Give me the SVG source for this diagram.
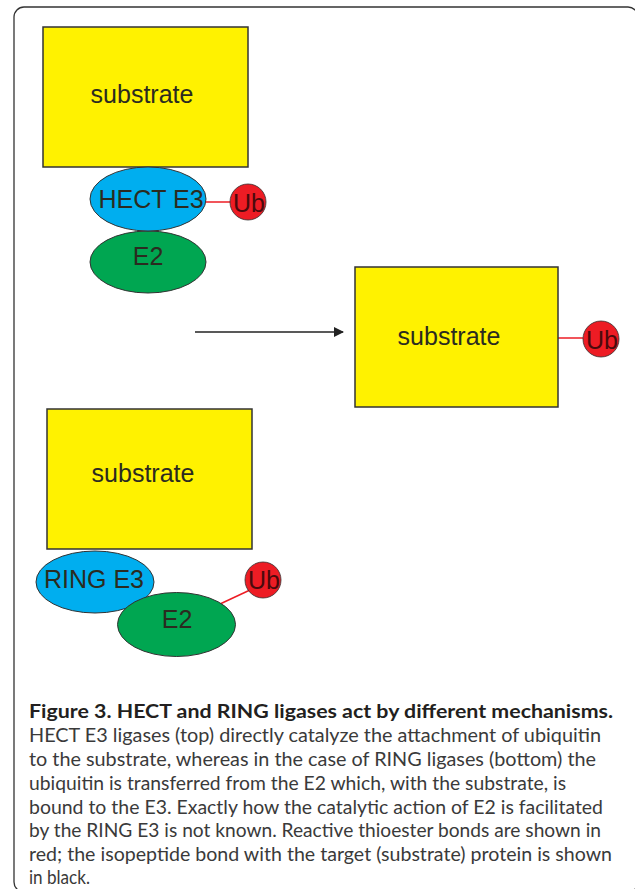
<svg xmlns="http://www.w3.org/2000/svg" width="635" height="889" viewBox="0 0 635 889">
<style>
.frame{fill:none;stroke:#333;stroke-width:1.3}
.sub{fill:#fff200;stroke:#333;stroke-width:1.5}
.e3{fill:#00aeef;stroke:#333;stroke-width:1}
.e2{fill:#00a651;stroke:#333;stroke-width:1}
.ub{fill:#ed1c24;stroke:#333;stroke-width:0.8}
.lbl{font-family:"Liberation Sans",Arial,sans-serif;font-size:25px;fill:#2b2b20;text-anchor:middle}
.ubt{font-family:"Liberation Sans",Arial,sans-serif;font-size:25px;fill:#4a0a0c;text-anchor:middle}
.thio{stroke:#ed1c24;stroke-width:1.5;fill:none}
.iso{stroke:#222;stroke-width:1.5;fill:none}
.cap{font-family:Lato,"Open Sans",sans-serif;font-size:19.5px;fill:#3a3a3a}
.capt{font-family:Lato,"Open Sans",sans-serif;font-size:19.5px;font-weight:bold;fill:#231f20}
</style>
<defs>
<marker id="arr" markerWidth="10" markerHeight="10" refX="9" refY="5" orient="auto" markerUnits="userSpaceOnUse">
<path d="M0,0 L10,5 L0,10 Z" fill="#222"/>
</marker>
</defs>
<rect class="frame" x="14" y="7" width="624" height="885" rx="10"/>
<g id="connectors">
<line class="thio" x1="206" y1="202" x2="231" y2="202"/>
<line class="iso" x1="195" y1="332" x2="343" y2="332" marker-end="url(#arr)"/>
<line class="thio" x1="558" y1="338" x2="583" y2="338"/>
<line class="thio" x1="220" y1="604" x2="250" y2="590"/>
</g>
<g id="substrate-top">
<rect class="sub" x="43" y="27" width="205" height="140"/>
<text class="lbl" x="142" y="103">substrate</text>
</g>
<g id="e2-top">
<ellipse class="e2" cx="148" cy="262" rx="58" ry="31"/>
<text class="lbl" x="148" y="265">E2</text>
</g>
<g id="hect-e3">
<ellipse class="e3" cx="148" cy="199" rx="58" ry="32"/>
<text class="lbl" x="151" y="208">HECT E3</text>
</g>
<g id="ub-top">
<circle class="ub" cx="248" cy="202" r="18"/>
<text class="ubt" x="249" y="212">Ub</text>
</g>
<g id="substrate-right">
<rect class="sub" x="355" y="267" width="203" height="140"/>
<text class="lbl" x="449" y="345">substrate</text>
</g>
<g id="ub-right">
<circle class="ub" cx="601" cy="339" r="18"/>
<text class="ubt" x="602" y="349">Ub</text>
</g>
<g id="substrate-bottom">
<rect class="sub" x="47" y="409" width="205" height="140"/>
<text class="lbl" x="143" y="482">substrate</text>
</g>
<g id="ring-e3">
<ellipse class="e3" cx="95" cy="582" rx="59" ry="31"/>
<text class="lbl" x="94" y="588">RING E3</text>
</g>
<g id="e2-bottom">
<ellipse class="e2" cx="176.5" cy="624.5" rx="59" ry="32"/>
<text class="lbl" x="177" y="628">E2</text>
</g>
<g id="ub-bottom">
<circle class="ub" cx="263" cy="580" r="18"/>
<text class="ubt" x="264" y="589">Ub</text>
</g>
<g id="caption">
<text class="capt" x="29" y="718" textLength="584" lengthAdjust="spacingAndGlyphs">Figure 3. HECT and RING ligases act by different mechanisms.</text>
<text class="cap" x="29" y="742" textLength="572" lengthAdjust="spacingAndGlyphs">HECT E3 ligases (top) directly catalyze the attachment of ubiquitin</text>
<text class="cap" x="29" y="766" textLength="567" lengthAdjust="spacingAndGlyphs">to the substrate, whereas in the case of RING ligases (bottom) the</text>
<text class="cap" x="29" y="790" textLength="537" lengthAdjust="spacingAndGlyphs">ubiquitin is transferred from the E2 which, with the substrate, is</text>
<text class="cap" x="29" y="814" textLength="574" lengthAdjust="spacingAndGlyphs">bound to the E3. Exactly how the catalytic action of E2 is facilitated</text>
<text class="cap" x="29" y="837" textLength="572" lengthAdjust="spacingAndGlyphs">by the RING E3 is not known. Reactive thioester bonds are shown in</text>
<text class="cap" x="29" y="861" textLength="583" lengthAdjust="spacingAndGlyphs">red; the isopeptide bond with the target (substrate) protein is shown</text>
<text class="cap" x="29" y="884" textLength="61" lengthAdjust="spacingAndGlyphs">in black.</text>
</g>
</svg>
